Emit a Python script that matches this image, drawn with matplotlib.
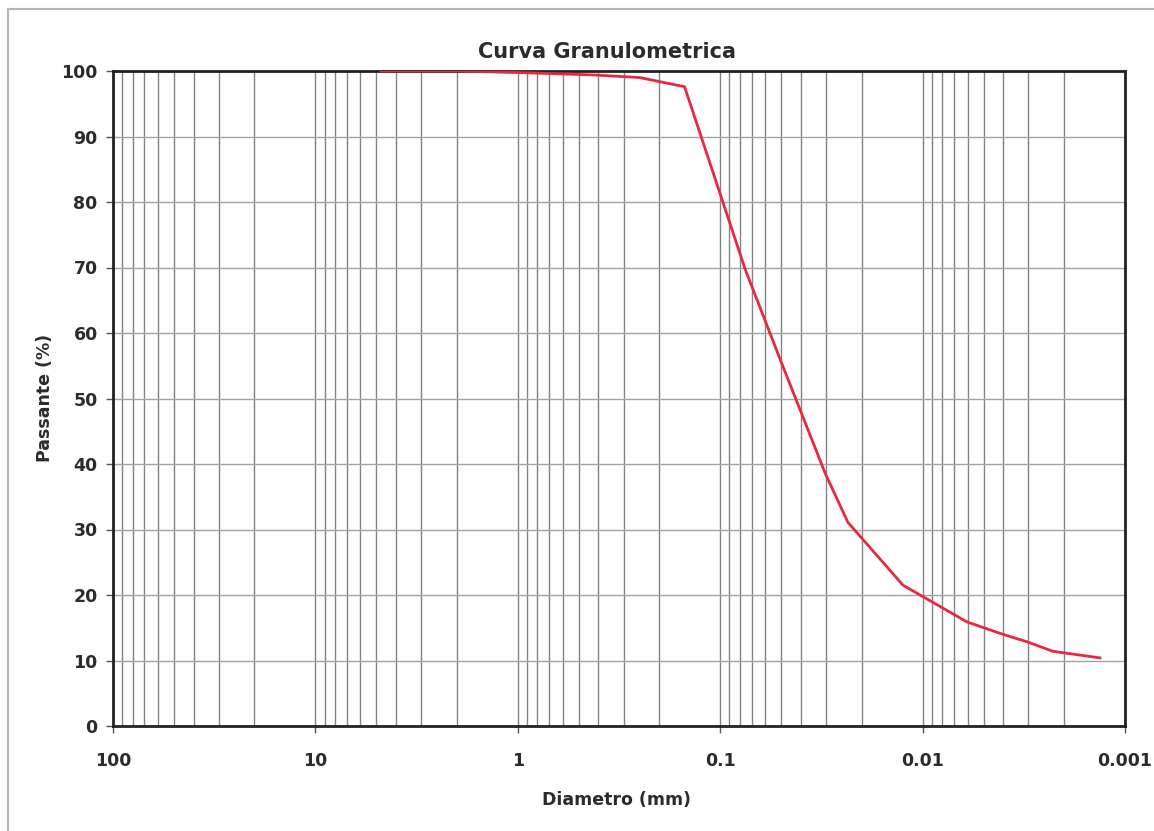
import numpy as np
import matplotlib
matplotlib.use('Agg')
import matplotlib.pyplot as plt
from matplotlib.ticker import LogLocator, FixedLocator, NullFormatter
from matplotlib.patches import Rectangle

# grain size distribution (sieve + hydrometer)
diametro = [4.75, 2.0, 0.85, 0.425, 0.25, 0.15, 0.075, 0.05, 0.0303,
            0.0234, 0.0125, 0.00605, 0.00401, 0.00301, 0.00227, 0.00133]
passante = [100.0, 100.0, 99.7, 99.4, 99.0, 97.6, 69.6, 55.6, 38.6,
            31.1, 21.5, 15.9, 14.0, 12.8, 11.4, 10.4]

x_ticks = [100, 10, 1, 0.1, 0.01, 0.001]
x_labels = ['100', '10', '1', '0.1', '0.01', '0.001']
y_ticks = [0, 10, 20, 30, 40, 50, 60, 70, 80, 90, 100]

W, H = 1154, 831
fig = plt.figure(figsize=(W / 100, H / 100), dpi=100)
fig.patches.append(Rectangle((8 / W, -0.1), 1.2, 1 - 9 / H + 0.1, transform=fig.transFigure,
                             fill=False, edgecolor='#b5b5b5', lw=1.5))
ax = fig.add_axes([113 / W, 1 - 726 / H, (1125 - 113) / W, (726 - 71) / H])

ax.set_xscale('log')
ax.set_xlim(100, 0.001)
ax.set_ylim(0, 100)

# grid: every minor decade line vertical, every 10% horizontal
ax.xaxis.set_major_locator(FixedLocator(x_ticks))
ax.xaxis.set_minor_locator(LogLocator(base=10, subs=np.arange(2, 10)))
ax.xaxis.set_minor_formatter(NullFormatter())
ax.set_xticks(x_ticks)
ax.set_xticklabels(x_labels)
ax.set_yticks(y_ticks)
ax.grid(True, axis='x', which='both', color='#7d8783', lw=1.0)
ax.grid(True, axis='y', which='major', color='#a3a3a3', lw=1.0)
ax.set_axisbelow(True)

ax.plot(diametro, passante, color='#e8283f', lw=2.0, zorder=3)

for s in ax.spines.values():
    s.set_color('#222222')
    s.set_linewidth(2.0)

font = dict(family='DejaVu Sans', weight='bold', color='#2b2b2b')
ax.tick_params(axis='both', which='major', direction='out', length=5, width=1,
               color='#555555', labelsize=12.5, labelcolor='#2b2b2b')
ax.tick_params(axis='x', which='minor', length=0)
ax.tick_params(axis='x', pad=14)
ax.tick_params(axis='y', pad=6)
for lab in ax.get_xticklabels() + ax.get_yticklabels():
    lab.set_fontweight('bold')

fig.text(607 / W, 1 - 52 / H, 'Curva Granulometrica', ha='center', va='center',
         fontsize=15, **font)
fig.text(617 / W, 1 - 800 / H, 'Diametro (mm)', ha='center', va='center',
         fontsize=12.5, **font)
fig.text(45 / W, 1 - 398 / H, 'Passante (%)', ha='center', va='center',
         rotation=90, fontsize=12.5, **font)

fig.savefig('out.png', dpi=100)
